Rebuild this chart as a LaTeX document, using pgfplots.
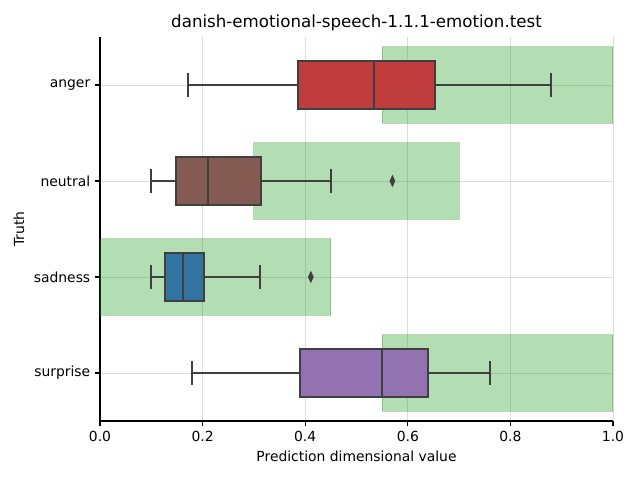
\documentclass[border=0pt]{standalone}
\usepackage{pgfplots}
\pgfplotsset{compat=1.18}
\usepgfplotslibrary{statistics}
\usepackage{fontspec}
\setmainfont{DejaVu Sans}
\definecolor{cred}{HTML}{C03D3E}
\definecolor{cbrown}{HTML}{845B53}
\definecolor{cblue}{HTML}{3274A1}
\definecolor{cpurple}{HTML}{9372B2}
\definecolor{tgreen}{HTML}{2CA02C}
\definecolor{bline}{HTML}{3F3F3F}
\definecolor{gridc}{HTML}{DCDCDC}
\begin{document}
\begin{tikzpicture}
\path[use as bounding box] (-72pt,-42.48pt) rectangle (388.8pt,303.12pt);
\begin{axis}[
  scale only axis, width=369.36pt, height=276.48pt,
  xmin=0, xmax=1, ymin=-0.5, ymax=3.5, y dir=reverse,
  axis x line*=bottom, axis y line*=left,
  axis line style={black, line width=0.8pt},
  ytick={0,1,2,3}, yticklabels={anger,neutral,sadness,surprise},
  xtick={0,0.2,0.4,0.6,0.8,1.0},
  xticklabel style={/pgf/number format/.cd, fixed, fixed zerofill, precision=1},
  /pgf/number format/assume math mode=true,
  grid=major, grid style={gridc, line width=0.6pt},
  tick align=outside, major tick length=3.5pt,
  tick style={black, line width=0.8pt},
  ticklabel style={font=\fontsize{10}{12}\selectfont},
  label style={font=\fontsize{10}{12}\selectfont},
  xlabel={Prediction dimensional value}, ylabel={Truth},
  title={danish-emotional-speech-1.1.1-emotion.test},
  title style={font=\fontsize{12}{14}\selectfont, at={(0.5,1)}, anchor=south, inner sep=0pt, yshift=-2pt},
  boxplot/draw direction=x,
]
% green ranges
\addplot[draw=tgreen, fill=tgreen, opacity=0.36, line width=0.8pt] coordinates {(0.55,-0.4) (1.0,-0.4) (1.0,0.4) (0.55,0.4)} -- cycle;
\addplot[draw=tgreen, fill=tgreen, opacity=0.36, line width=0.8pt] coordinates {(0.30,0.6) (0.70,0.6) (0.70,1.4) (0.30,1.4)} -- cycle;
\addplot[draw=tgreen, fill=tgreen, opacity=0.36, line width=0.8pt] coordinates {(-0.05,1.6) (0.45,1.6) (0.45,2.4) (-0.05,2.4)} -- cycle;
\addplot[draw=tgreen, fill=tgreen, opacity=0.36, line width=0.8pt] coordinates {(0.55,2.6) (1.0,2.6) (1.0,3.4) (0.55,3.4)} -- cycle;
% boxes
\addplot[boxplot prepared={draw position=0, lower whisker=0.171, lower quartile=0.386, median=0.535, upper quartile=0.653, upper whisker=0.879, box extend=0.5, whisker extend=0.25}, draw=bline, fill=cred, line width=1.5pt] coordinates {};
\addplot[boxplot prepared={draw position=1, lower whisker=0.100, lower quartile=0.149, median=0.210, upper quartile=0.313, upper whisker=0.451, box extend=0.5, whisker extend=0.25}, draw=bline, fill=cbrown, line width=1.5pt] coordinates {};
\addplot[boxplot prepared={draw position=2, lower whisker=0.100, lower quartile=0.127, median=0.161, upper quartile=0.202, upper whisker=0.311, box extend=0.5, whisker extend=0.25}, draw=bline, fill=cblue, line width=1.5pt] coordinates {};
\addplot[boxplot prepared={draw position=3, lower whisker=0.180, lower quartile=0.389, median=0.550, upper quartile=0.640, upper whisker=0.760, box extend=0.5, whisker extend=0.25}, draw=bline, fill=cpurple, line width=1.5pt] coordinates {};
% outliers
\addplot[only marks, mark=diamond*, mark size=4pt, mark options={xscale=0.6, fill=bline, draw=bline}] coordinates {(0.570,1) (0.411,2)};
\end{axis}
\end{tikzpicture}
\end{document}
